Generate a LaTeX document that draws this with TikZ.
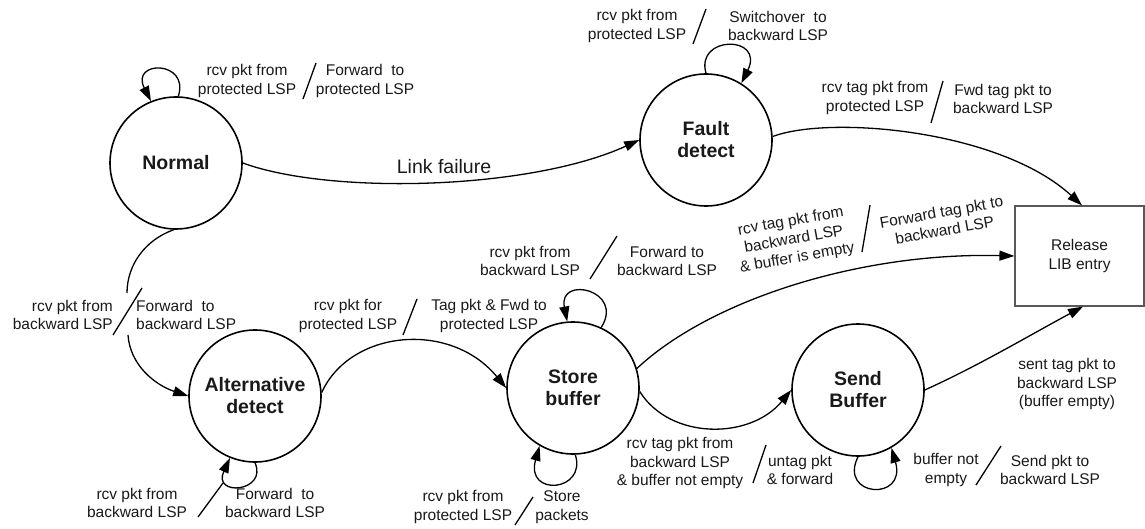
\documentclass[tikz,border=0pt]{standalone}
\usepackage{fontspec}
\setmainfont{Liberation Sans}
\usetikzlibrary{arrows.meta}
\begin{document}
\begin{tikzpicture}[x=1pt,y=-1pt,
  >={Triangle[length=15pt,width=10pt]},
  state/.style={circle, draw, line width=1.6pt, minimum size=132pt, inner sep=0pt,
    font=\fontsize{19.5}{22}\selectfont\bfseries, align=center, text=black!90},
  lbl/.style={font=\fontsize{15.5}{18.5}\selectfont, align=center, inner sep=0pt, text=black!90},
  edge/.style={line width=1.3pt, ->},
  slash/.style={line width=1.3pt}]
\useasboundingbox (0,0) rectangle (1145,529);

% states
\node[state] (normal) at (176,163) {Normal};
\node[state] (fault) at (706,140) {Fault\\detect};
\node[state] (alt) at (255,396) {Alternative\\detect};
\node[state] (store) at (573,388) {Store\\buffer};
\node[state] (send) at (858,390) {Send\\Buffer};
\node[draw=black!65, line width=1.2pt, minimum width=129pt, minimum height=100pt, inner sep=0pt,
  font=\fontsize{15.5}{18.5}\selectfont, align=center, text=black!90] (release) at (1079.5,256) {Release\\LIB entry};

% Normal self loop
\draw[edge] (normal.88) .. controls (190,60) and (130,60) .. (normal.112);
\node[lbl] (n1a) at (247,81) {rcv pkt from\\protected LSP};
\draw[slash] (303,99) -- (316,63);
\node[lbl] (n1b) at (365,81) {Forward~~to\\protected LSP};

% Normal -> Fault
\draw[edge] (normal.0) .. controls (330,195) and (530,190) .. (fault.180);
\node[font=\fontsize{19.5}{22}\selectfont, inner sep=0pt, text=black!90] (lf) at (444,167) {Link failure};

% Fault self loop
\draw[edge] (fault.90) .. controls (695,35) and (765,35) .. (fault.58);
\node[lbl] (f1a) at (637,26) {rcv pkt from\\protected LSP};
\draw[slash] (693,44) -- (706,9);
\node[lbl] (f1b) at (778,26) {Switchover~~to\\backward LSP};

% Fault -> Release
\draw[edge] (fault.3) .. controls (830,115) and (1000,130) .. ([xshift=2.5pt]release.north);
\node[lbl] (f2a) at (875,98) {rcv tag pkt from\\protected LSP};
\draw[slash] (931,123) -- (943,81);
\node[lbl] (f2b) at (1003,99) {Fwd tag pkt to\\backward LSP};

% Normal -> Alternative (interrupted by label)
\coordinate (g1) at (127,293);
\coordinate (g2) at (128,335);
\draw[line width=1.3pt] (normal.-92) .. controls (145,240) and (127,265) .. (g1);
\draw[edge] (g2) .. controls (130,365) and (155,385) .. (alt.180);
\node[lbl, align=right, anchor=east] (a1a) at (113,315) {rcv pkt from\\backward LSP};
\draw[slash] (113,335) -- (142,288);
\node[lbl, align=left, anchor=west] (a1b) at (136,315) {Forward~~to\\backward LSP};

% Alternative self loop
\draw[edge] (alt.-90) .. controls (268,492) and (212,497) .. (alt.-112);
\node[lbl] (a2a) at (137,503) {rcv pkt from\\backward LSP};
\draw[slash] (198,517) -- (223,483);
\node[lbl] (a2b) at (275,503) {Forward~~to\\backward LSP};

% Alternative -> Store
\draw[edge] (alt.3) .. controls (350,330) and (450,320) .. (store.180);
\node[lbl] (a3a) at (348,316) {rcv pkt for\\protected LSP};
\draw[slash] (403,335) -- (417,299);
\node[lbl] (a3b) at (489,316) {Tag pkt \& Fwd to\\protected LSP};

% Store top loop
\draw[edge] (store.65) .. controls (625,290) and (558,275) .. (store.95);
\node[lbl] (s1a) at (530,261) {rcv pkt from\\backward LSP};
\draw[slash] (590,279) -- (617,236);
\node[lbl] (s1b) at (667,261) {Forward to\\backward LSP};

% Store bottom loop
\draw[edge] (store.-88) .. controls (587,492) and (525,497) .. (store.-120);
\node[lbl] (s2a) at (463,507) {rcv pkt from\\protected LSP};
\draw[slash] (515,525) -- (533,497);
\node[lbl] (s2b) at (562,507) {Store\\packets};

% Store -> Release
\draw[edge] (store.17) .. controls (710,300) and (860,252) .. (release.west);
\node[lbl, rotate=10] (s3a) at (794,240) {rcv tag pkt from\\backward LSP\\\& buffer is empty};
\draw[slash] (862,252) -- (870,205);
\node[lbl, rotate=10] (s3b) at (943,221) {Forward tag pkt to\\backward LSP};

% Store -> Send
\draw[edge] (store.-3) .. controls (670,440) and (750,440) .. (send.180);
\node[lbl] (s4a) at (680,463) {rcv tag pkt from\\backward LSP\\\& buffer not empty};
\draw[slash] (753,483) -- (766,445);
\node[lbl] (s4b) at (800,470) {untag pkt\\\& forward};

% Send self loop
\draw[edge] (send.-90) .. controls (838,497) and (907,502) .. (send.-60);
\node[lbl] (d1a) at (946,470) {buffer not\\empty};
\draw[slash] (976,485) -- (1001,446);
\node[lbl] (d1b) at (1050,470) {Send pkt to\\backward LSP};

% Send -> Release
\draw[edge] (send.0) .. controls (980,365) and (1030,335) .. ([xshift=3.5pt]release.south);
\node[lbl] (d2) at (1067,384) {sent tag pkt to\\backward LSP\\(buffer empty)};
\end{tikzpicture}
\end{document}
